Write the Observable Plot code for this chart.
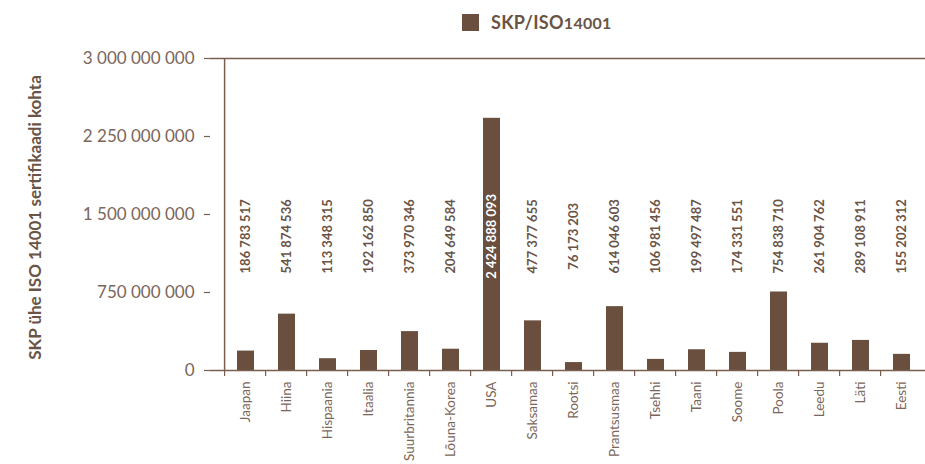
<!DOCTYPE html>
<html>
<head>
<meta charset="utf-8">
<script src="https://cdn.jsdelivr.net/npm/d3@7"></script>
<script src="https://cdn.jsdelivr.net/npm/@observablehq/plot@0.6"></script>
<style>
  html, body { margin: 0; padding: 0; background: #fff; }
  body { width: 925px; height: 464px; overflow: hidden; font-family: Lato, "Open Sans", sans-serif; }
  #legend { height: 44px; position: relative; }
  #legend .sw { position: absolute; left: 462px; top: 14px; width: 17px; height: 17px; background: #6a4f3f; }
  #legend .lb { position: absolute; left: 491px; top: 11px; font-size: 18px; font-weight: bold; color: #6a5446; letter-spacing: 0.3px; }
  #legend .lb span { font-size: 16px; }
</style>
</head>
<body>
<div id="legend"><div class="sw"></div><div class="lb">SKP/ISO<span>14001</span></div></div>
<div id="chart"></div>
<script>
const countries = ["Jaapan","Hiina","Hispaania","Itaalia","Suurbritannia","Lõuna-Korea","USA","Saksamaa","Rootsi","Prantsusmaa","Tsehhi","Taani","Soome","Poola","Leedu","Läti","Eesti"];
const values = [186783517,541874536,113348315,192162850,373970346,204649584,2424888093,477377655,76173203,614046603,106981456,199497487,174331551,754838710,261904762,289108911,155202312];
const yTicks = [0, 750000000, 1500000000, 2250000000, 3000000000];
const seriesName = "SKP/ISO14001";
const yLabel = "SKP ühe ISO 14001 sertifikaadi kohta";
const labelLevel = 1290000000;

const data = countries.map((c, i) => ({country: c, value: values[i]}));
const fmt = d => d3.format(",")(d).replace(/,/g, " ");
const barColor = "#6a4f3f";
const textColor = "#7b665a";
const axisColor = "#7a5f4f";
const bw = 42.8;

const chart = Plot.plot({
  width: 925,
  height: 420,
  marginTop: 14,
  marginBottom: 94,
  marginLeft: 210,
  marginRight: 0,
  style: {fontFamily: "Lato, 'Open Sans', sans-serif", color: textColor, background: "#fff", overflow: "visible"},
  x: {domain: countries, range: [210, 210 + bw * countries.length], padding: 0.58, align: 0.5},
  y: {domain: [0, 3000000000]},
  marks: [
    Plot.barY(data, {x: "country", y: "value", fill: barColor}),
    Plot.ruleY([0, 3000000000], {stroke: axisColor, strokeWidth: 1.5}),
    Plot.ruleX([countries[0]], {dx: -bw / 2, y1: 0, y2: 3000000000, stroke: axisColor, strokeWidth: 1.5}),
    Plot.ruleX(countries, {dx: -bw / 2, y1: 0, y2: 0, insetBottom: -6, stroke: axisColor, strokeWidth: 1.2}),
    Plot.axisY({ticks: yTicks, tickFormat: fmt, tickSize: 6, tickPadding: 10, fontSize: 17, stroke: axisColor, strokeWidth: 1.2, fill: textColor, label: null}),
    Plot.axisX({tickRotate: -90, tickSize: 0, tickPadding: 11, fontSize: 13.5, fill: textColor, label: null}),
    Plot.text(data, {x: "country", y: () => labelLevel, text: d => fmt(d.value), rotate: -90, fontSize: 13, fontWeight: "bold",
      fill: d => d.value > labelLevel ? "#ffffff" : "#6a5446"}),
    Plot.text([yLabel], {frameAnchor: "left", textAnchor: "middle", dx: -175, dy: 3, rotate: -90, fontSize: 17, fontWeight: "bold", fill: "#6a5446", style: "letter-spacing:0.4px"})
  ]
});
document.getElementById("chart").appendChild(chart);
</script>
</body>
</html>
